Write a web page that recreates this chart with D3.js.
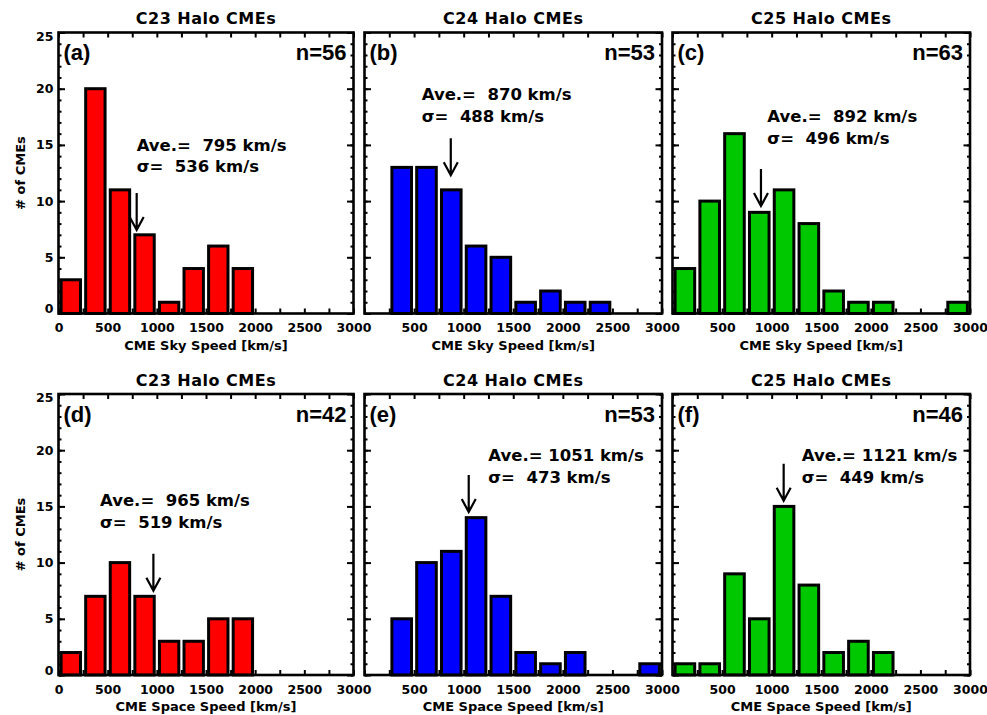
<!DOCTYPE html>
<html>
<head>
<meta charset="utf-8">
<script src="https://cdn.jsdelivr.net/npm/d3@7"></script>
<style>
  html, body { margin: 0; padding: 0; background: #fff; }
  svg { display: block; }
</style>
</head>
<body>
<svg id="chart" width="987" height="715"></svg>
<script>
// ---------------- DATA ----------------
const binStarts = [0, 250, 500, 750, 1000, 1250, 1500, 1750, 2000, 2250, 2500, 2750];
const binWidth = 250;

const skyC23   = [3, 20, 11, 7, 1, 4, 6, 4, 0, 0, 0, 0];
const skyC24   = [0, 13, 13, 11, 6, 5, 1, 2, 1, 1, 0, 0];
const skyC25   = [4, 10, 16, 9, 11, 8, 2, 1, 1, 0, 0, 1];
const spaceC23 = [2, 7, 10, 7, 3, 3, 5, 5, 0, 0, 0, 0];
const spaceC24 = [0, 5, 10, 11, 14, 7, 2, 1, 2, 0, 0, 1];
const spaceC25 = [1, 1, 9, 5, 15, 8, 2, 3, 2, 0, 0, 0];

const panelLetters = ["a", "b", "c", "d", "e", "f"];
const cycles = ["C23", "C24", "C25", "C23", "C24", "C25"];
const counts = [56, 53, 63, 42, 53, 46];
const averages = [795, 870, 892, 965, 1051, 1121];
const sigmas = [536, 488, 496, 519, 473, 449];
// arrow tip height (in # of CMEs units)
const arrowTips = [7.43, 12.3, 9.56, 7.5, 14.5, 15.5];
// annotation anchor (speed km/s, count) for the Ave. text
const noteX = [795, 577, 956, 422, 1248, 1303];
const noteY = [14.5, 19.0, 17.05, 15.0, 19.05, 19.05];

const xTicks = [0, 500, 1000, 1500, 2000, 2500, 3000];
const xMinorTicks = [0, 250, 500, 750, 1000, 1250, 1500, 1750, 2000, 2250, 2500, 2750, 3000];
const yTicks = [0, 5, 10, 15, 20, 25];
const yMinorTicks = d3.range(0, 26, 1);
const rowXLabels = ["CME Sky Speed [km/s]", "CME Space Speed [km/s]"];
const yLabel = "# of CMEs";

const seriesList = [skyC23, skyC24, skyC25, spaceC23, spaceC24, spaceC25];
const barColors = ["#ff0000", "#0000ff", "#00c800"];

// ---------------- LAYOUT ----------------
const colLeft = [58.5, 364.5, 672.5];
const colWidth = [295, 297.5, 297.5];
const rowTop = [32.5, 394];
const rowHeight = 281;

const svg = d3.select("#chart");
const BOLD_DJ = "'DejaVu Sans', sans-serif";
const BOLD_LB = "'Liberation Sans', Arial, Helvetica, sans-serif";

seriesList.forEach((series, i) => {
  const col = i % 3, row = Math.floor(i / 3);
  const L = colLeft[col], W = colWidth[col], T = rowTop[row], H = rowHeight;
  const x = d3.scaleLinear().domain([0, 3000]).range([L, L + W]);
  const y = d3.scaleLinear().domain([0, 25]).range([T + H, T]);
  const g = svg.append("g");

  // bars
  const bars = binStarts.map((s, k) => ({ s, e: s + binWidth, v: series[k] })).filter(d => d.v > 0);
  g.selectAll("rect.bar").data(bars).enter().append("rect")
    .attr("class", "bar")
    .attr("x", d => x(d.s) + 2.6)
    .attr("width", d => x(d.e) - x(d.s) - 5.2)
    .attr("y", d => y(d.v))
    .attr("height", d => y(0) - y(d.v))
    .attr("fill", barColors[col])
    .attr("stroke", "#000")
    .attr("stroke-width", 3);

  // axes (IDL-style inward ticks); the "0" of inner panels sits under the neighbour's "3000"
  const axB = g.append("g").attr("transform", `translate(0,${T + H})`)
    .call(d3.axisBottom(x).tickValues(xMinorTicks).tickSizeInner(-5).tickSizeOuter(0).tickPadding(10)
      .tickFormat(d => (xTicks.includes(d) && !(col > 0 && d === 0)) ? String(d) : ""));
  const axT = g.append("g").attr("transform", `translate(0,${T})`)
    .call(d3.axisTop(x).tickValues(xMinorTicks).tickSizeInner(-5).tickSizeOuter(0).tickFormat(""));
  const axL1 = g.append("g").attr("transform", `translate(${L},0)`)
    .call(d3.axisLeft(y).tickValues(yMinorTicks).tickSizeInner(-3).tickSizeOuter(0).tickFormat(""));
  const axL2 = g.append("g").attr("transform", `translate(${L},0)`)
    .call(d3.axisLeft(y).tickValues(yTicks).tickSizeInner(-6.5).tickSizeOuter(0).tickPadding(5)
      .tickFormat(d => col === 0 ? String(d) : ""));
  const axR1 = g.append("g").attr("transform", `translate(${L + W},0)`)
    .call(d3.axisRight(y).tickValues(yMinorTicks).tickSizeInner(-3).tickSizeOuter(0).tickFormat(""));
  const axR2 = g.append("g").attr("transform", `translate(${L + W},0)`)
    .call(d3.axisRight(y).tickValues(yTicks).tickSizeInner(-6.5).tickSizeOuter(0).tickFormat(""));

  [axB, axT, axL1, axL2, axR1, axR2].forEach(a => {
    a.select(".domain").remove();
    a.selectAll(".tick line").attr("stroke", "#000").attr("stroke-width", 2);
    a.selectAll("text").attr("fill", "#000")
      .style("font-family", BOLD_DJ).style("font-weight", "bold").style("font-size", "12.5px");
  });
  // keep end labels inside the frame like the original
  axL2.selectAll(".tick text").attr("dy", d => d === 0 ? "-0.05em" : (d === 25 ? "0.6em" : "0.32em"));

  // frame
  g.append("rect").attr("x", L).attr("y", T).attr("width", W).attr("height", H)
    .attr("fill", "none").attr("stroke", "#000").attr("stroke-width", 2.6);

  // title
  g.append("text").attr("x", L + W / 2).attr("y", T - 8.5).attr("text-anchor", "middle")
    .style("font-family", BOLD_DJ).style("font-weight", "bold").style("font-size", "16px")
    .style("letter-spacing", "0.5px")
    .text(`${cycles[i]} Halo CMEs`);

  // panel letter & n
  g.append("text").attr("x", L + 5).attr("y", T + 27.5)
    .style("font-family", BOLD_LB).style("font-weight", "bold").style("font-size", "22px")
    .text(`(${panelLetters[i]})`);
  g.append("text").attr("x", L + W - 7).attr("y", T + 27.5).attr("text-anchor", "end")
    .style("font-family", BOLD_LB).style("font-weight", "bold").style("font-size", "22px")
    .text(`n=${counts[i]}`);

  // average / sigma text
  const nx = x(noteX[i]), ny = y(noteY[i]);
  g.append("text").attr("x", nx).attr("y", ny).attr("xml:space", "preserve").style("white-space", "pre")
    .style("font-family", BOLD_DJ).style("font-weight", "bold").style("font-size", "16.5px")
    .text(`Ave.=${String(averages[i]).padStart(5, " ")} km/s`);
  g.append("text").attr("x", nx).attr("y", ny + 21.7).attr("xml:space", "preserve").style("white-space", "pre")
    .style("font-family", BOLD_DJ).style("font-weight", "bold").style("font-size", "16.5px")
    .text(`\u03c3=${String(sigmas[i]).padStart(5, " ")} km/s`);

  // arrow at the average
  const ax = x(averages[i]), tip = y(arrowTips[i]);
  g.append("path")
    .attr("d", `M${ax},${tip - 37}L${ax},${tip - 1}M${ax - 7},${tip - 13}L${ax},${tip}L${ax + 7},${tip - 13}`)
    .attr("fill", "none").attr("stroke", "#000").attr("stroke-width", 2.2);

  // x-axis label
  g.append("text").attr("x", L + W / 2).attr("y", T + H + 36).attr("text-anchor", "middle")
    .style("font-family", BOLD_DJ).style("font-weight", "bold").style("font-size", "13px")
    .text(rowXLabels[row]);

  // y-axis label
  if (col === 0) {
    g.append("text").attr("transform", `translate(25,${T + H / 2}) rotate(-90)`).attr("text-anchor", "middle")
      .style("font-family", BOLD_DJ).style("font-weight", "bold").style("font-size", "13px")
      .text(yLabel);
  }
});
</script>
</body>
</html>
